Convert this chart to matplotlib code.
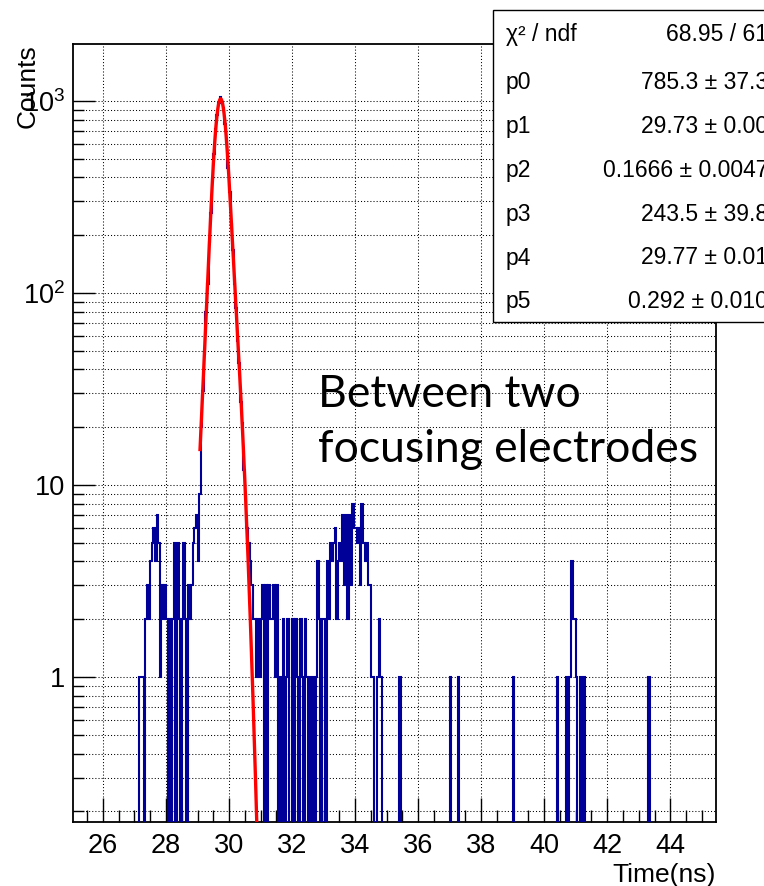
import numpy as np
import matplotlib
matplotlib.use('Agg')
import matplotlib.pyplot as plt
from matplotlib.patches import Rectangle
from matplotlib.ticker import (FixedLocator, FixedFormatter, MultipleLocator,
                               LogLocator, NullFormatter)

plt.rcParams['font.family'] = ['Liberation Sans', 'DejaVu Sans']

# histogram binning (ns)
bin_width = 0.05
t_low, t_high = 25.0, 45.5

# counts per bin, left noise cluster starting at 27.15 ns
left_start = 27.15
left_counts = [1, 1, 1, 0, 2, 3, 2, 4, 5, 6, 4, 7, 5, 1, 3, 2, 3, 2, 0, 2,
               0, 2, 5, 0, 5, 2, 0, 2, 5, 2, 0, 3, 2, 3, 5, 6, 7, 4, 9]

# main peak, 29.10 - 30.90 ns
peak_start = 29.10
peak_counts = [20, 31, 48, 80, 112, 185, 262, 395, 530, 712,
               850, 980, 1052, 990, 915, 760, 610, 450, 335, 228,
               168, 112, 84, 56, 43, 27, 21, 12, 9, 6,
               5, 4, 3, 2, 2, 1]

# tail and second bump, 30.90 - 34.85 ns
right_start = 30.90
right_counts = [2, 1, 2, 3, 0, 3, 0, 3, 2, 2, 3, 1, 3, 0, 1, 0, 2, 0, 1, 2,
                0, 0, 2, 0, 2, 1, 0, 2, 1, 0, 2, 1, 0, 1, 0, 1, 0, 1, 4, 2,
                0, 2, 2, 0, 4, 2, 5, 4, 5, 6, 2, 4, 5, 4, 7, 3, 7, 2, 7, 3,
                8, 6, 6, 5, 6, 3, 8, 5, 4, 5, 3, 3, 1, 1, 0, 0, 1, 2, 1]

# isolated late hits (bin low edge, counts)
late_times = [35.40, 37.00, 37.25, 39.00, 40.40, 40.70, 40.80, 40.85,
              40.90, 40.95, 41.00, 41.15, 41.25, 43.30]
late_counts = [1, 1, 1, 1, 1, 1, 1, 4, 2, 2, 1, 1, 1, 1]

# double gaussian fit: p0*gaus(p1,p2) + p3*gaus(p4,p5)
fit_params = [785.3, 29.73, 0.1666, 243.5, 29.77, 0.292]
fit_range = (29.08, 31.0)

stat_names = ['\u03c7\u00b2 / ndf', 'p0', 'p1', 'p2', 'p3', 'p4', 'p5']
stat_values = ['68.95 / 61', '785.3 \u00b1 37.3', '29.73 \u00b1 0.00',
               '0.1666 \u00b1 0.0047', '243.5 \u00b1 39.8', '29.77 \u00b1 0.01',
               '0.292 \u00b1 0.010']

# ---- fill the histogram
nbins = int(round((t_high - t_low) / bin_width))
edges = t_low + bin_width * np.arange(nbins + 1)
counts = np.zeros(nbins)


def put(start, vals):
    i0 = int(round((start - t_low) / bin_width))
    counts[i0:i0 + len(vals)] = vals


put(left_start, left_counts)
put(peak_start, peak_counts)
put(right_start, right_counts)
for t, c in zip(late_times, late_counts):
    put(t, [c])

W, H = 764, 886
fig = plt.figure(figsize=(W / 100, H / 100), dpi=100)
ax = fig.add_axes([73 / W, 1 - 822 / H, (716 - 73) / W, (822 - 44) / H])

# empty bins drop below the frame like in ROOT
shown = np.where(counts > 0, counts, 1e-3)
ax.stairs(shown, edges, baseline=None, color='#000099', lw=1.5, zorder=3)

p = fit_params
tf = np.linspace(fit_range[0], fit_range[1], 500)
ff = (p[0] * np.exp(-0.5 * ((tf - p[1]) / p[2]) ** 2)
      + p[3] * np.exp(-0.5 * ((tf - p[4]) / p[5]) ** 2))
ax.plot(tf, ff, color='#ff0000', lw=2.4, zorder=4)

ax.set_yscale('log')
ax.set_xlim(25.05, 45.45)
ax.set_ylim(0.176, 1980)

ax.xaxis.set_major_locator(MultipleLocator(2))
ax.xaxis.set_minor_locator(MultipleLocator(0.5))
ax.yaxis.set_major_locator(FixedLocator([1, 10, 100, 1000]))
ax.yaxis.set_major_formatter(FixedFormatter(
    ['1', '10', r'$\mathregular{10^{2}}$', r'$\mathregular{10^{3}}$']))
ax.yaxis.set_minor_locator(LogLocator(base=10, subs=range(2, 10)))
ax.yaxis.set_minor_formatter(NullFormatter())

ax.tick_params(which='both', direction='in', top=False, right=False,
               labelsize=19.5, width=1.0, color='k')
ax.tick_params(axis='x', which='major', length=17, pad=8)
ax.tick_params(axis='x', which='minor', length=8.6)
ax.tick_params(axis='y', which='major', length=16, pad=5.5)
ax.tick_params(axis='y', which='minor', length=8)

grid_style = dict(ls=(0, (1, 2)), color='k', lw=0.75)
ax.grid(True, axis='x', which='major', **grid_style)
ax.grid(True, axis='y', which='both', **grid_style)
ax.set_axisbelow(True)
for s in ax.spines.values():
    s.set_linewidth(1.3)

fig.text(716 / W, 1 - 882 / H, 'Time(ns)', ha='right', va='baseline',
         fontsize=19)
fig.text(35 / W, 1 - 44 / H, 'Counts', rotation=90, rotation_mode='anchor',
         ha='right', va='baseline', fontsize=19)

# stats box, runs off the right edge
box = Rectangle((493 / W, 1 - 322 / H), 320 / W, (322 - 10) / H,
                transform=fig.transFigure, fc='white', ec='black', lw=1.0,
                zorder=5)
fig.add_artist(box)
for k, (name, val) in enumerate(zip(stat_names, stat_values)):
    yb = 41 if k == 0 else 45 + 43.9 * k
    fig.text(506 / W, 1 - yb / H, name, ha='left', va='baseline',
             fontsize=16.5, zorder=6)
    fig.text(768 / W, 1 - yb / H, val, ha='right', va='baseline',
             fontsize=16.5, zorder=6)

fig.text(318 / W, 1 - 407 / H, 'Between two', family=['Lato', 'DejaVu Sans'],
         fontsize=32, ha='left', va='baseline', zorder=6)
fig.text(318 / W, 1 - 462 / H, 'focusing electrodes',
         family=['Lato', 'DejaVu Sans'], fontsize=32, ha='left',
         va='baseline', zorder=6)

fig.savefig('out.png', dpi=100)
